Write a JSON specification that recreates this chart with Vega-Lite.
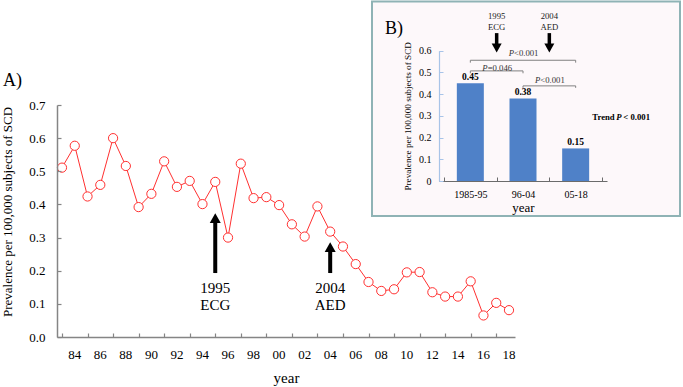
{
  "$schema": "https://vega.github.io/schema/vega-lite/v6.json",
  "width": 683,
  "height": 387,
  "autosize": "none",
  "padding": 0,
  "background": "white",
  "config": {
    "view": {"stroke": null},
    "font": "Liberation Serif",
    "text": {"font": "Liberation Serif", "color": "black"},
    "axis": {"labelFont": "Liberation Serif", "titleFont": "Liberation Serif", "grid": false, "labelColor": "black", "titleColor": "black", "titleFontWeight": "normal"}
  },
  "datasets": {
    "main": [
      {"year": 1983, "value": 0.511}, {"year": 1984, "value": 0.577}, {"year": 1985, "value": 0.424},
      {"year": 1986, "value": 0.459}, {"year": 1987, "value": 0.600}, {"year": 1988, "value": 0.516},
      {"year": 1989, "value": 0.392}, {"year": 1990, "value": 0.432}, {"year": 1991, "value": 0.530},
      {"year": 1992, "value": 0.453}, {"year": 1993, "value": 0.471}, {"year": 1994, "value": 0.401},
      {"year": 1995, "value": 0.468}, {"year": 1996, "value": 0.300}, {"year": 1997, "value": 0.523},
      {"year": 1998, "value": 0.419}, {"year": 1999, "value": 0.422}, {"year": 2000, "value": 0.398},
      {"year": 2001, "value": 0.340}, {"year": 2002, "value": 0.303}, {"year": 2003, "value": 0.394},
      {"year": 2004, "value": 0.318}, {"year": 2005, "value": 0.273}, {"year": 2006, "value": 0.220},
      {"year": 2007, "value": 0.166}, {"year": 2008, "value": 0.139}, {"year": 2009, "value": 0.144},
      {"year": 2010, "value": 0.195}, {"year": 2011, "value": 0.196}, {"year": 2012, "value": 0.135},
      {"year": 2013, "value": 0.122}, {"year": 2014, "value": 0.122}, {"year": 2015, "value": 0.168},
      {"year": 2016, "value": 0.065}, {"year": 2017, "value": 0.103}, {"year": 2018, "value": 0.081}
    ],
    "yearLabels": [
      {"year": 1984, "label": "84"}, {"year": 1986, "label": "86"}, {"year": 1988, "label": "88"},
      {"year": 1990, "label": "90"}, {"year": 1992, "label": "92"}, {"year": 1994, "label": "94"},
      {"year": 1996, "label": "96"}, {"year": 1998, "label": "98"}, {"year": 2000, "label": "00"},
      {"year": 2002, "label": "02"}, {"year": 2004, "label": "04"}, {"year": 2006, "label": "06"},
      {"year": 2008, "label": "08"}, {"year": 2010, "label": "10"}, {"year": 2012, "label": "12"},
      {"year": 2014, "label": "14"}, {"year": 2016, "label": "16"}, {"year": 2018, "label": "18"}
    ],
    "mainNotes": [
      {"year": 1995, "base": 0.193, "neck": 0.35, "head": 0.3586, "label": "1995\nECG", "ty": 0.148},
      {"year": 2004, "base": 0.193, "neck": 0.262, "head": 0.2713, "label": "2004\nAED", "ty": 0.148}
    ],
    "panelA": [{"year": 1978.38, "value": 0.772, "label": "A)"}],
    "periods": [
      {"period": "1985-95", "mid": 0.5, "value": 0.45},
      {"period": "96-04", "mid": 1.5, "value": 0.38},
      {"period": "05-18", "mid": 2.5, "value": 0.15}
    ],
    "tests": [
      {"a": 0.5, "b": 2.5, "m": 1.5, "level": 0.556, "end": 0.545, "ty": 0.588, "rest": "<0.001"},
      {"a": 0.5, "b": 1.5, "m": 1.0, "level": 0.507, "end": 0.496, "ty": 0.522, "rest": "=0.046"},
      {"a": 1.5, "b": 2.5, "m": 2.0, "level": 0.438, "end": 0.429, "ty": 0.465, "rest": "<0.001"}
    ],
    "insetNotes": [
      {"mid": 1, "top": 0.681, "neck": 0.625, "head": 0.613, "label": "1995\nECG", "ty": 0.760},
      {"mid": 2, "top": 0.681, "neck": 0.625, "head": 0.613, "label": "2004\nAED", "ty": 0.760}
    ],
    "trend": [{"x": 2.816, "value": 0.296}],
    "frame": [{"x0": 0, "x1": 1, "y0": 0, "y1": 1}],
    "panelB": [{"x": 0.042, "y": 0.8695, "label": "B)"}]
  },
  "resolve": {"scale": {"x": "independent", "y": "independent"}, "axis": {"x": "independent", "y": "independent"}},
  "layer": [
    {
      "layer": [
        {
          "data": {"name": "frame"},
          "mark": {"type": "rect", "fill": "#fdf8fa", "stroke": "#8fb3b5", "strokeWidth": 2},
          "encoding": {
            "x": {"field": "x0", "type": "quantitative", "scale": {"domain": [0, 1], "range": [372, 680], "nice": false, "zero": false}, "axis": null},
            "x2": {"field": "x1"},
            "y": {"field": "y0", "type": "quantitative", "scale": {"domain": [0, 1], "range": [216, 1.5], "nice": false, "zero": false}, "axis": null},
            "y2": {"field": "y1"}
          }
        },
        {
          "data": {"name": "panelB"},
          "mark": {"type": "text", "align": "left", "baseline": "middle", "fontSize": 18},
          "encoding": {
            "x": {"field": "x", "type": "quantitative", "scale": {"domain": [0, 1], "range": [372, 680], "nice": false, "zero": false}, "axis": null},
            "y": {"field": "y", "type": "quantitative", "scale": {"domain": [0, 1], "range": [216, 1.5], "nice": false, "zero": false}, "axis": null},
            "text": {"field": "label"}
          }
        }
      ]
    },
    {
      "layer": [
        {
          "data": {"name": "main"},
          "mark": {"type": "line", "color": "#ff3030", "strokeWidth": 1, "point": {"filled": true, "fill": "white", "stroke": "#ff3030", "strokeWidth": 1, "size": 85, "opacity": 1}},
          "encoding": {
            "x": {"field": "year", "type": "quantitative",
              "scale": {"domain": [1982.61, 2018.47], "range": [57, 515], "nice": false, "zero": false},
              "axis": {"title": "year", "orient": "bottom", "offset": -50, "zindex": 1,
                "values": [1983,1984,1985,1986,1987,1988,1989,1990,1991,1992,1993,1994,1995,1996,1997,1998,1999,2000,2001,2002,2003,2004,2005,2006,2007,2008,2009,2010,2011,2012,2013,2014,2015,2016,2017,2018],
                "labels": false,
                "tickSize": -4, "titleFontSize": 15,
                "titleY": 33, "titleBaseline": "top",
                "domainColor": "#858585", "tickColor": "#858585", "domainWidth": 1.5, "tickWidth": 1.2}},
            "y": {"field": "value", "type": "quantitative",
              "scale": {"domain": [0, 0.7], "range": [337, 105], "nice": false, "zero": false},
              "axis": {"title": "Prevalence per 100,000 subjects of SCD", "orient": "left", "offset": -57, "zindex": 1,
                "values": [0, 0.1, 0.2, 0.3, 0.4, 0.5, 0.6, 0.7], "format": ".1f",
                "tickSize": -4, "labelPadding": 16, "labelFontSize": 13, "titleFontSize": 13,
                "titleX": -43, "titleY": 211.5, "titleAngle": 270, "titleBaseline": "bottom",
                "labelOverlap": false, "labelFlush": false,
                "domainColor": "#858585", "tickColor": "#858585", "domainWidth": 1.5, "tickWidth": 1.2}}
          }
        },
        {
          "data": {"name": "yearLabels"},
          "mark": {"type": "text", "align": "center", "baseline": "middle", "dy": 18, "fontSize": 13},
          "encoding": {
            "x": {"field": "year", "type": "quantitative", "scale": {"domain": [1982.61, 2018.47], "range": [57, 515], "nice": false, "zero": false}},
            "y": {"datum": 0, "type": "quantitative", "scale": {"domain": [0, 0.7], "range": [337, 105], "nice": false, "zero": false}},
            "text": {"field": "label"}
          }
        },
        {
          "data": {"name": "mainNotes"},
          "mark": {"type": "rule", "color": "black", "strokeWidth": 4},
          "encoding": {
            "x": {"field": "year", "type": "quantitative", "scale": {"domain": [1982.61, 2018.47], "range": [57, 515], "nice": false, "zero": false}},
            "y": {"field": "base", "type": "quantitative", "scale": {"domain": [0, 0.7], "range": [337, 105], "nice": false, "zero": false}},
            "y2": {"field": "neck"}
          }
        },
        {
          "data": {"name": "mainNotes"},
          "mark": {"type": "point", "shape": "M0,-0.9L-1,0.9L1,0.9Z", "filled": true, "color": "black", "size": 121, "opacity": 1},
          "encoding": {
            "x": {"field": "year", "type": "quantitative", "scale": {"domain": [1982.61, 2018.47], "range": [57, 515], "nice": false, "zero": false}},
            "y": {"field": "head", "type": "quantitative", "scale": {"domain": [0, 0.7], "range": [337, 105], "nice": false, "zero": false}}
          }
        },
        {
          "data": {"name": "mainNotes"},
          "mark": {"type": "text", "align": "center", "baseline": "middle", "fontSize": 15, "lineBreak": "\n", "lineHeight": 17},
          "encoding": {
            "x": {"field": "year", "type": "quantitative", "scale": {"domain": [1982.61, 2018.47], "range": [57, 515], "nice": false, "zero": false}},
            "y": {"field": "ty", "type": "quantitative", "scale": {"domain": [0, 0.7], "range": [337, 105], "nice": false, "zero": false}},
            "text": {"field": "label"}
          }
        },
        {
          "data": {"name": "panelA"},
          "mark": {"type": "text", "align": "left", "baseline": "middle", "fontSize": 18},
          "encoding": {
            "x": {"field": "year", "type": "quantitative", "scale": {"domain": [1982.61, 2018.47], "range": [57, 515], "nice": false, "zero": false}},
            "y": {"field": "value", "type": "quantitative", "scale": {"domain": [0, 0.7], "range": [337, 105], "nice": false, "zero": false}},
            "text": {"field": "label"}
          }
        }
      ]
    },
    {
      "layer": [
        {
          "data": {"name": "periods"},
          "mark": {"type": "bar", "orient": "vertical", "size": 27, "color": "#4f81c8"},
          "encoding": {
            "x": {"field": "mid", "type": "quantitative",
              "scale": {"domain": [0, 3], "range": [439, 607], "nice": false, "zero": false},
              "axis": {"title": "year", "orient": "top", "offset": -181, "zindex": 2,
                "values": [0, 0.5, 1, 1.5, 2, 2.5, 3],
                "labelExpr": "datum.value == 0.5 ? '1985-95' : datum.value == 1.5 ? '96-04' : datum.value == 2.5 ? '05-18' : ''",
                "tickOpacity": {"condition": {"test": "datum.value % 1 == 0", "value": 1}, "value": 0},
                "tickSize": 4, "labelPadding": -12, "labelBaseline": "top", "labelFontSize": 10, "titleFontSize": 13,
                "titleY": 20.7, "titleBaseline": "top", "labelOverlap": false, "labelFlush": false,
                "domainColor": "#6b6b6b", "tickColor": "#6b6b6b", "domainWidth": 1.2, "tickWidth": 1}},
            "y": {"field": "value", "type": "quantitative",
              "scale": {"domain": [0, 0.6], "range": [181, 50.7], "nice": false, "zero": false},
              "axis": {"title": "Prevalence per 100,000 subjects of SCD", "orient": "right", "offset": -244, "zindex": 2,
                "values": [0, 0.1, 0.2, 0.3, 0.4, 0.5, 0.6],
                "labelExpr": "datum.value == 0 ? '0' : format(datum.value, '.1f')",
                "tickSize": 4, "labelPadding": -12, "labelAlign": "right", "labelFontSize": 10, "titleFontSize": 9.2,
                "titleX": -27, "titleAngle": 270, "titleBaseline": "bottom",
                "labelOverlap": false, "labelFlush": false,
                "domainColor": "#a8c4e8", "tickColor": "#a8c4e8", "domainWidth": 1.2, "tickWidth": 1}}
          }
        },
        {
          "data": {"name": "periods"},
          "mark": {"type": "text", "align": "center", "baseline": "bottom", "dy": -1, "fontSize": 9.5, "fontWeight": "bold"},
          "encoding": {
            "x": {"field": "mid", "type": "quantitative", "scale": {"domain": [0, 3], "range": [439, 607], "nice": false, "zero": false}},
            "y": {"field": "value", "type": "quantitative", "scale": {"domain": [0, 0.6], "range": [181, 50.7], "nice": false, "zero": false}},
            "text": {"field": "value", "format": ".2f"}
          }
        },
        {
          "data": {"name": "tests"},
          "mark": {"type": "rule", "color": "#808080", "strokeWidth": 1},
          "encoding": {
            "x": {"field": "a", "type": "quantitative", "scale": {"domain": [0, 3], "range": [439, 607], "nice": false, "zero": false}},
            "x2": {"field": "b"},
            "y": {"field": "level", "type": "quantitative", "scale": {"domain": [0, 0.6], "range": [181, 50.7], "nice": false, "zero": false}}
          }
        },
        {
          "data": {"name": "tests"},
          "mark": {"type": "rule", "color": "#808080", "strokeWidth": 1},
          "encoding": {
            "x": {"field": "a", "type": "quantitative", "scale": {"domain": [0, 3], "range": [439, 607], "nice": false, "zero": false}},
            "y": {"field": "level", "type": "quantitative", "scale": {"domain": [0, 0.6], "range": [181, 50.7], "nice": false, "zero": false}},
            "y2": {"field": "end"}
          }
        },
        {
          "data": {"name": "tests"},
          "mark": {"type": "rule", "color": "#808080", "strokeWidth": 1},
          "encoding": {
            "x": {"field": "b", "type": "quantitative", "scale": {"domain": [0, 3], "range": [439, 607], "nice": false, "zero": false}},
            "y": {"field": "level", "type": "quantitative", "scale": {"domain": [0, 0.6], "range": [181, 50.7], "nice": false, "zero": false}},
            "y2": {"field": "end"}
          }
        },
        {
          "data": {"name": "tests"},
          "mark": {"type": "text", "text": "P", "align": "right", "baseline": "middle", "dx": -9, "fontSize": 8.7, "fontStyle": "italic", "color": "#333333"},
          "encoding": {
            "x": {"field": "m", "type": "quantitative", "scale": {"domain": [0, 3], "range": [439, 607], "nice": false, "zero": false}},
            "y": {"field": "ty", "type": "quantitative", "scale": {"domain": [0, 0.6], "range": [181, 50.7], "nice": false, "zero": false}}
          }
        },
        {
          "data": {"name": "tests"},
          "mark": {"type": "text", "align": "left", "baseline": "middle", "dx": -9, "fontSize": 8.7, "color": "#333333"},
          "encoding": {
            "x": {"field": "m", "type": "quantitative", "scale": {"domain": [0, 3], "range": [439, 607], "nice": false, "zero": false}},
            "y": {"field": "ty", "type": "quantitative", "scale": {"domain": [0, 0.6], "range": [181, 50.7], "nice": false, "zero": false}},
            "text": {"field": "rest"}
          }
        },
        {
          "data": {"name": "insetNotes"},
          "mark": {"type": "rule", "color": "black", "strokeWidth": 3.5},
          "encoding": {
            "x": {"field": "mid", "type": "quantitative", "scale": {"domain": [0, 3], "range": [439, 607], "nice": false, "zero": false}},
            "y": {"field": "top", "type": "quantitative", "scale": {"domain": [0, 0.6], "range": [181, 50.7], "nice": false, "zero": false}},
            "y2": {"field": "neck"}
          }
        },
        {
          "data": {"name": "insetNotes"},
          "mark": {"type": "point", "shape": "M-1,-0.9L1,-0.9L0,0.9Z", "filled": true, "color": "black", "size": 100, "opacity": 1},
          "encoding": {
            "x": {"field": "mid", "type": "quantitative", "scale": {"domain": [0, 3], "range": [439, 607], "nice": false, "zero": false}},
            "y": {"field": "head", "type": "quantitative", "scale": {"domain": [0, 0.6], "range": [181, 50.7], "nice": false, "zero": false}}
          }
        },
        {
          "data": {"name": "insetNotes"},
          "mark": {"type": "text", "align": "center", "baseline": "middle", "fontSize": 8.7, "lineBreak": "\n", "lineHeight": 11.3, "color": "#222222"},
          "encoding": {
            "x": {"field": "mid", "type": "quantitative", "scale": {"domain": [0, 3], "range": [439, 607], "nice": false, "zero": false}},
            "y": {"field": "ty", "type": "quantitative", "scale": {"domain": [0, 0.6], "range": [181, 50.7], "nice": false, "zero": false}},
            "text": {"field": "label"}
          }
        },
        {
          "data": {"name": "trend"},
          "mark": {"type": "text", "text": "Trend", "align": "left", "baseline": "middle", "fontSize": 8.7, "fontWeight": "bold"},
          "encoding": {
            "x": {"field": "x", "type": "quantitative", "scale": {"domain": [0, 3], "range": [439, 607], "nice": false, "zero": false}},
            "y": {"field": "value", "type": "quantitative", "scale": {"domain": [0, 0.6], "range": [181, 50.7], "nice": false, "zero": false}}
          }
        },
        {
          "data": {"name": "trend"},
          "mark": {"type": "text", "text": "P", "align": "left", "baseline": "middle", "dx": 24, "fontSize": 8.7, "fontWeight": "bold", "fontStyle": "italic"},
          "encoding": {
            "x": {"field": "x", "type": "quantitative", "scale": {"domain": [0, 3], "range": [439, 607], "nice": false, "zero": false}},
            "y": {"field": "value", "type": "quantitative", "scale": {"domain": [0, 0.6], "range": [181, 50.7], "nice": false, "zero": false}}
          }
        },
        {
          "data": {"name": "trend"},
          "mark": {"type": "text", "text": "< 0.001", "align": "left", "baseline": "middle", "dx": 31, "fontSize": 8.7, "fontWeight": "bold"},
          "encoding": {
            "x": {"field": "x", "type": "quantitative", "scale": {"domain": [0, 3], "range": [439, 607], "nice": false, "zero": false}},
            "y": {"field": "value", "type": "quantitative", "scale": {"domain": [0, 0.6], "range": [181, 50.7], "nice": false, "zero": false}}
          }
        }
      ]
    }
  ]
}
